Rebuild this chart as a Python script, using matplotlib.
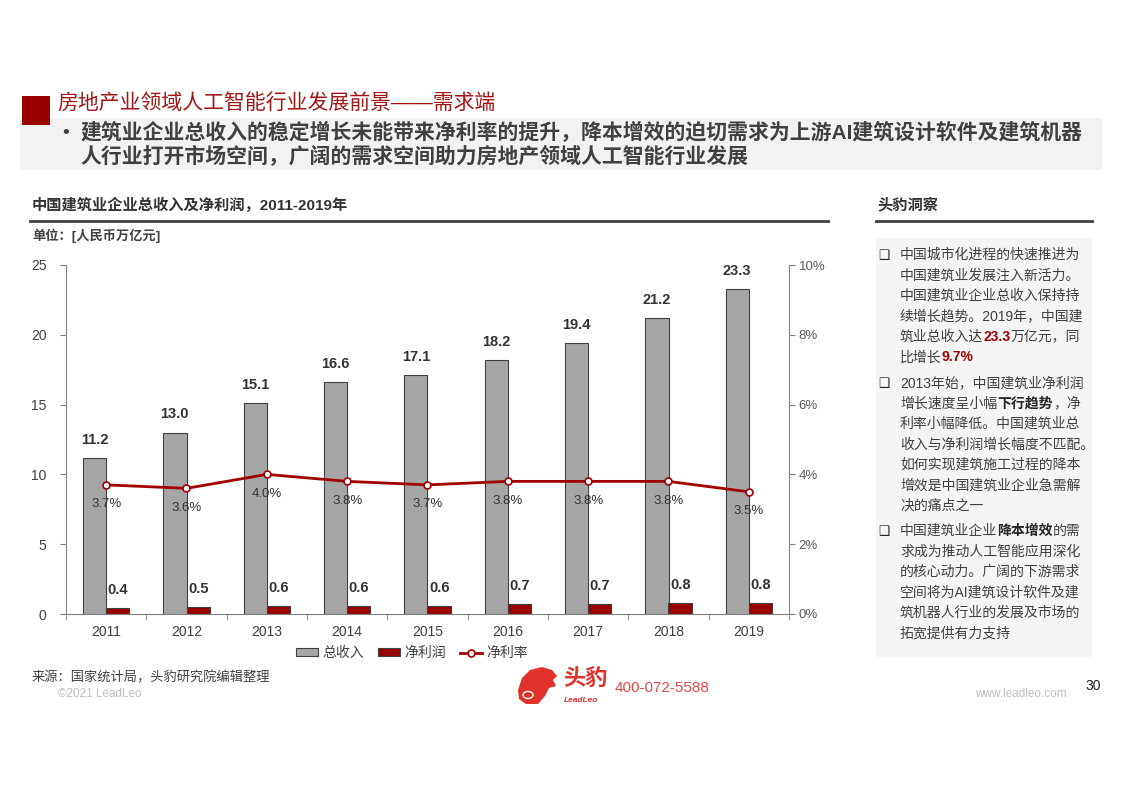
import matplotlib
matplotlib.use("Agg")
import matplotlib.pyplot as plt
from matplotlib.patches import Rectangle, Polygon, Circle
from matplotlib.lines import Line2D
import numpy as np

plt.rcParams['font.family'] = ['Liberation Sans', 'Noto Sans CJK SC', 'DejaVu Sans']

# data
years = ['2011', '2012', '2013', '2014', '2015', '2016', '2017', '2018', '2019']
revenue = [11.2, 13.0, 15.1, 16.6, 17.1, 18.2, 19.4, 21.2, 23.3]
profit = [0.4, 0.5, 0.6, 0.6, 0.6, 0.7, 0.7, 0.8, 0.8]
margin = [3.7, 3.6, 4.0, 3.8, 3.7, 3.8, 3.8, 3.8, 3.5]

W, H = 1122, 793
fig = plt.figure(figsize=(W / 100, H / 100), dpi=100)


def px(x, y):
    return x / W, 1 - y / H


def ftext(x, y, s, **kw):
    return fig.text(*px(x, y), s, **kw)


# header
fig.add_artist(Rectangle(px(20, 170), 1082 / W, 52 / H, transform=fig.transFigure,
                         facecolor='#f2f2f2', edgecolor='none'))
fig.add_artist(Rectangle(px(22, 125), 28 / W, 29 / H, transform=fig.transFigure,
                         facecolor='#990000', edgecolor='none'))
ftext(57, 103, '房地产业领域人工智能行业发展前景——需求端', fontsize=15, color='#a31515',
      va='center', ha='left')
ftext(62, 133, '•', fontsize=14, color='#404040', va='center')
ftext(80, 133, '建筑业企业总收入的稳定增长未能带来净利率的提升，降本增效的迫切需求为上游AI建筑设计软件及建筑机器',
      fontsize=15, color='#404040', fontweight='bold', va='center')
ftext(80, 157, '人行业打开市场空间，广阔的需求空间助力房地产领域人工智能行业发展',
      fontsize=15, color='#404040', fontweight='bold', va='center')

# chart heading
ftext(32, 205, '中国建筑业企业总收入及净利润，2011-2019年', fontsize=11, fontweight='bold',
      color='#333333', va='center')
fig.add_artist(Line2D([30 / W, 828 / W], [1 - 221 / H] * 2, transform=fig.transFigure,
                      color='#404040', lw=2))
ftext(32, 236, '单位：[人民币万亿元]', fontsize=9.5, fontweight='bold', color='#404040', va='center')

# main chart
ax = fig.add_axes([66 / W, 1 - 614 / H, 723 / W, 349 / H])
x = np.arange(len(years))
bw = 0.29
b1 = ax.bar(x - bw / 2, revenue, bw, color='#a6a6a6', edgecolor='#404040', linewidth=0.8, label='总收入')
b2 = ax.bar(x + bw / 2, profit, bw, color='#990000', edgecolor='#404040', linewidth=0.8, label='净利润')
ax.set_xlim(-0.5, len(years) - 0.5)
ax.set_ylim(0, 25)
ax.set_yticks([0, 5, 10, 15, 20, 25])
ax.set_xticks(x)
ax.set_xticklabels(years)
ax.set_xticks(np.arange(len(years) + 1) - 0.5, minor=True)
for s in ['top', 'right']:
    ax.spines[s].set_visible(False)
ax.spines['left'].set_color('#808080')
ax.spines['bottom'].set_color('#808080')
ax.tick_params(axis='y', colors='#808080', labelcolor='#404040', labelsize=10, length=4, pad=10)
ax.tick_params(axis='x', which='major', length=0, labelcolor='#404040', labelsize=10, pad=8)
ax.tick_params(axis='x', which='minor', length=4, color='#808080')
for r, v in zip(b1, revenue):
    ax.annotate(f'{v:.1f}', (r.get_x() + r.get_width() / 2, v), xytext=(0, 8),
                textcoords='offset points', ha='center', va='bottom', fontsize=10.5,
                fontweight='semibold', color='#333333')
for r, v in zip(b2, profit):
    ax.annotate(f'{v:.1f}', (r.get_x() + r.get_width() / 2, v), xytext=(0, 8),
                textcoords='offset points', ha='center', va='bottom', fontsize=10.5,
                fontweight='semibold', color='#333333')

ax2 = ax.twinx()
ax2.set_ylim(0, 10)
ax2.set_yticks([0, 2, 4, 6, 8, 10])
ax2.set_yticklabels([f'{t}%' for t in [0, 2, 4, 6, 8, 10]])
for s in ['top', 'left', 'bottom']:
    ax2.spines[s].set_visible(False)
ax2.spines['right'].set_color('#808080')
ax2.tick_params(axis='y', colors='#808080', labelcolor='#595959', labelsize=9.5, length=4, pad=3)
ln, = ax2.plot(x, margin, color='#a00000', lw=2, marker='o', markersize=5,
               markerfacecolor='white', markeredgecolor='#a00000', markeredgewidth=1.2, label='净利率')
for xi, v in zip(x, margin):
    ax2.annotate(f'{v:.1f}%', (xi, v), xytext=(0, -14), textcoords='offset points',
                 ha='center', va='center', fontsize=9.5, color='#333333')

fig.legend(handles=[b1, b2, ln], loc='center', bbox_to_anchor=px(412, 653), ncol=3,
           frameon=False, fontsize=10, handlelength=1.6, handleheight=0.5,
           columnspacing=1.0, handletextpad=0.3, labelcolor='#404040')

# right panel
ftext(877, 205, '头豹洞察', fontsize=11, fontweight='bold', color='#333333', va='center')
fig.add_artist(Line2D([876 / W, 1092 / W], [1 - 221 / H] * 2, transform=fig.transFigure,
                      color='#404040', lw=2))
fig.add_artist(Rectangle(px(876, 657), 216 / W, 419 / H, transform=fig.transFigure,
                         facecolor='#f5f5f5', edgecolor='none'))

R = '#a00000'
paras = [
    (255, [[('中国城市化进程的快速推进为', None)],
           [('中国建筑业发展注入新活力。', None)],
           [('中国建筑业企业总收入保持持', None)],
           [('续增长趋势。2019年，中国建', None)],
           [('筑业总收入达', None), ('23.3', R), ('万亿元，同', None)],
           [('比增长', None), ('9.7%', R)]]),
    (383, [[('2013年始，中国建筑业净利润', None)],
           [('增长速度呈小幅', None), ('下行趋势', 'b'), ('，净', None)],
           [('利率小幅降低。中国建筑业总', None)],
           [('收入与净利润增长幅度不匹配。', None)],
           [('如何实现建筑施工过程的降本', None)],
           [('增效是中国建筑业企业急需解', None)],
           [('决的痛点之一', None)]]),
    (531, [[('中国建筑业企业', None), ('降本增效', 'b'), ('的需', None)],
           [('求成为推动人工智能应用深化', None)],
           [('的核心动力。广阔的下游需求', None)],
           [('空间将为AI建筑设计软件及建', None)],
           [('筑机器人行业的发展及市场的', None)],
           [('拓宽提供有力支持', None)]]),
]
renderer = fig.canvas.get_renderer()
lh = 20.5
for y0, lines in paras:
    ftext(884, y0, '❑', fontsize=9, color='#222222', va='center', ha='center',
          family=['DejaVu Sans'])
    for i, segs in enumerate(lines):
        cx = 900
        y = y0 + i * lh
        for s, style in segs:
            kw = dict(fontsize=10, color='#404040', va='center', ha='left')
            if style == 'b':
                kw.update(fontweight='bold', color='#262626')
            elif style:
                kw.update(fontweight='bold', color=style)
            t = ftext(cx, y, s, **kw)
            cx += t.get_window_extent(renderer=renderer).width

# footer
ftext(32, 678, '来源：国家统计局，头豹研究院编辑整理', fontsize=9.5, color='#404040', va='center')
ftext(58, 694, '©2021 LeadLeo', fontsize=8.5, color='#bfbfbf', va='center')
head = [(518, 690), (522, 678), (530, 670), (542, 667), (552, 670), (557, 676),
        (553, 680), (556, 686), (549, 688), (545, 696), (538, 704), (526, 704), (519, 699)]
fig.add_artist(Polygon([px(a, b) for a, b in head], closed=True, transform=fig.transFigure,
                       facecolor='#e0322b', edgecolor='none'))
fig.add_artist(Circle(px(528, 695), 5 / W, transform=fig.transFigure,
                      facecolor='none', edgecolor='white', lw=1))
ftext(563, 680, '头豹', fontsize=16, fontweight='bold', color='#e0322b', va='center')
ftext(564, 701, 'LeadLeo', fontsize=6, fontweight='bold', style='italic', color='#e0322b', va='center')
ftext(615, 688, '400-072-5588', fontsize=11, color='#e04a44', va='center')
ftext(975, 694, 'www.leadleo.com', fontsize=8.5, color='#bfbfbf', va='center')
ftext(1085, 686, '30', fontsize=10, color='#222222', va='center')

fig.savefig('out.png', dpi=100)
